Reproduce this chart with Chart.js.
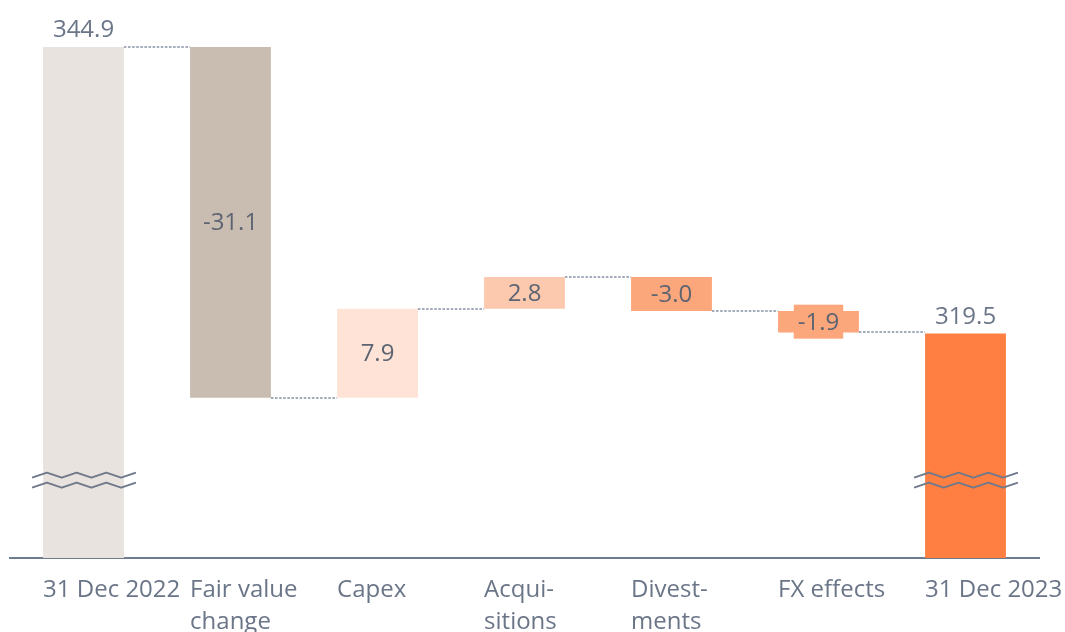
<!DOCTYPE html>
<html>
<head>
<meta charset="utf-8">
<script src="https://cdn.jsdelivr.net/npm/chart.js@4"></script>
<style>
  html, body { margin: 0; padding: 0; background: #ffffff; }
  #wrap { width: 1065px; height: 632px; position: relative; }
</style>
</head>
<body>
<div id="wrap"><canvas id="mainChart"></canvas></div>
<script>
const categories = [['31 Dec 2022'], ['Fair value', 'change'], ['Capex'], ['Acqui-', 'sitions'], ['Divest-', 'ments'], ['FX effects'], ['31 Dec 2023']];
const openingValue = 344.9;
const deltas = [-31.1, 7.9, 2.8, -3.0, -1.9];
const closingValue = 319.5;
const valueLabels = ['344.9', '-31.1', '7.9', '2.8', '-3.0', '-1.9', '319.5'];
const barColors = ['#e8e3de', '#c9bdb1', '#fee3d6', '#fdc9ae', '#fca67c', '#fca67c', '#ff7f42'];

const axisMin = 299.6;
const axisMax = 348;
const breakValue = 306.5;

// floating bars: [start, end]
const ranges = [[axisMin, openingValue]];
const levels = [openingValue];
let running = openingValue;
for (const d of deltas) {
  const next = Math.round((running + d) * 10) / 10;
  ranges.push([running, next]);
  running = next;
  levels.push(running);
}
ranges.push([axisMin, closingValue]);

const FONT = '"Open Sans", "Noto Sans", sans-serif';
const textGray = '#6b7588';
const inBarGray = '#5d6472';

function zigzag(ctx, x0, x1, y, amp, segs) {
  ctx.beginPath();
  const step = (x1 - x0) / segs;
  for (let i = 0; i <= segs; i++) {
    const yy = y + (i % 2 === 0 ? amp : -amp);
    if (i === 0) ctx.moveTo(x0 + i * step, yy);
    else ctx.lineTo(x0 + i * step, yy);
  }
  ctx.stroke();
}

const waterfallPlugin = {
  id: 'waterfallExtras',
  afterDatasetsDraw(chart) {
    const ctx = chart.ctx;
    const meta = chart.getDatasetMeta(0);
    const y = chart.scales.y;
    const area = chart.chartArea;
    ctx.save();

    // dotted connectors
    ctx.strokeStyle = '#a3abbb';
    ctx.lineWidth = 2;
    ctx.setLineDash([2.5, 1.6]);
    for (let i = 0; i < meta.data.length - 1; i++) {
      const a = meta.data[i], b = meta.data[i + 1];
      const py = Math.round(y.getPixelForValue(levels[i]));
      ctx.beginPath();
      ctx.moveTo(a.x + a.width / 2, py);
      ctx.lineTo(b.x - b.width / 2, py);
      ctx.stroke();
    }
    ctx.setLineDash([]);

    // axis break markers on the first and last bars
    const by = y.getPixelForValue(breakValue);
    ctx.strokeStyle = '#6f798b';
    ctx.lineWidth = 2;
    ctx.lineJoin = 'round';
    for (const i of [0, meta.data.length - 1]) {
      const bar = meta.data[i];
      const x0 = bar.x - bar.width / 2 - 11;
      const x1 = bar.x + bar.width / 2 + 12;
      zigzag(ctx, x0, x1, by - 5, 2.5, 7);
      zigzag(ctx, x0, x1, by + 5, 2.5, 7);
    }

    // value labels
    ctx.font = '24px ' + FONT;
    ctx.textAlign = 'center';
    meta.data.forEach((bar, i) => {
      const isTotal = i === 0 || i === meta.data.length - 1;
      const top = Math.min(bar.y, bar.base);
      const bottom = Math.max(bar.y, bar.base);
      if (isTotal) {
        ctx.fillStyle = textGray;
        ctx.textBaseline = 'alphabetic';
        ctx.fillText(valueLabels[i], bar.x, top - 10);
      } else {
        const cy = (top + bottom) / 2;
        if (bottom - top < 26) {
          const w = ctx.measureText(valueLabels[i]).width + 8;
          ctx.fillStyle = barColors[i];
          ctx.fillRect(bar.x - w / 2, cy - 17, w, 34);
        }
        ctx.fillStyle = inBarGray;
        ctx.textBaseline = 'middle';
        ctx.fillText(valueLabels[i], bar.x, cy + 1);
      }
    });

    // category labels, left aligned with each bar
    ctx.fillStyle = textGray;
    ctx.textAlign = 'left';
    ctx.textBaseline = 'alphabetic';
    meta.data.forEach((bar, i) => {
      categories[i].forEach((line, j) => {
        ctx.fillText(line, bar.x - bar.width / 2, area.bottom + 39 + j * 32);
      });
    });

    ctx.restore();
  }
};

new Chart(document.getElementById('mainChart'), {
  type: 'bar',
  data: {
    labels: categories,
    datasets: [{
      data: ranges,
      backgroundColor: barColors,
      borderWidth: 0,
      borderSkipped: false,
      barPercentage: 0.55,
      categoryPercentage: 1
    }]
  },
  options: {
    responsive: true,
    maintainAspectRatio: false,
    animation: false,
    layout: { padding: { left: 10, right: 26, top: 12, bottom: 0 } },
    plugins: {
      legend: { display: false },
      tooltip: { enabled: false }
    },
    scales: {
      x: {
        grid: { display: false, drawTicks: false },
        border: { display: true, color: '#6f7b8e', width: 2 },
        ticks: { display: false },
        afterFit(scale) { scale.height = 74; }
      },
      y: {
        display: false,
        min: axisMin,
        max: axisMax
      }
    }
  },
  plugins: [waterfallPlugin]
});
</script>
</body>
</html>
